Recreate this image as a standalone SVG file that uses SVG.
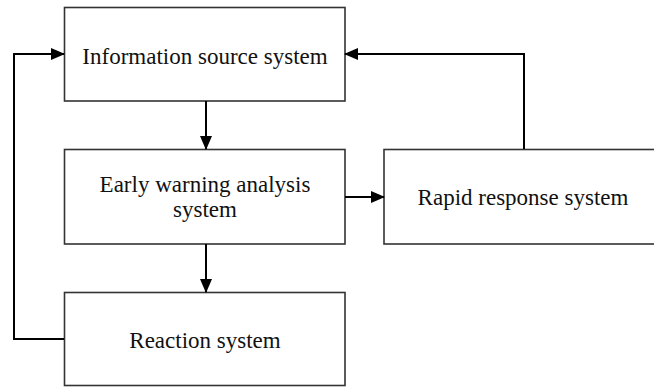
<svg xmlns="http://www.w3.org/2000/svg" width="654" height="387" viewBox="0 0 654 387">
<defs>
<marker id="ah" markerWidth="14" markerHeight="12" refX="13" refY="6" orient="auto" markerUnits="userSpaceOnUse">
<path d="M0,0 L14,6 L0,12 Z" fill="#000"/>
</marker>
<style>
.box{fill:#fff;stroke:#333;stroke-width:1.6}
.lbl{font-family:"Liberation Serif","Times New Roman",serif;font-size:23px;fill:#111;text-anchor:middle}
.con{fill:none;stroke:#000;stroke-width:2}
</style>
</defs>
<rect width="654" height="387" fill="#fff"/>
<g id="info"><rect class="box" x="64.5" y="7.5" width="280.5" height="93.5"/><text class="lbl" x="205" y="64">Information source system</text></g>
<g id="early"><rect class="box" x="64.5" y="149.5" width="280.5" height="94.5"/><text class="lbl" x="205" y="192">Early warning analysis</text><text class="lbl" x="205" y="217">system</text></g>
<g id="rapid"><rect class="box" x="384" y="149.5" width="280" height="94.5"/><text class="lbl" x="523" y="205">Rapid response system</text></g>
<g id="reaction"><rect class="box" x="64.5" y="292.5" width="280.5" height="93"/><text class="lbl" x="205" y="348">Reaction system</text></g>
<g id="connectors">
<path class="con" d="M206,101 V149" marker-end="url(#ah)"/>
<path class="con" d="M206,244 V292" marker-end="url(#ah)"/>
<path class="con" d="M345,197 H384" marker-end="url(#ah)"/>
<path class="con" d="M524,149 V54 H345" marker-end="url(#ah)"/>
<path class="con" d="M64,339 H14 V54 H64" marker-end="url(#ah)"/>
</g>
</svg>
